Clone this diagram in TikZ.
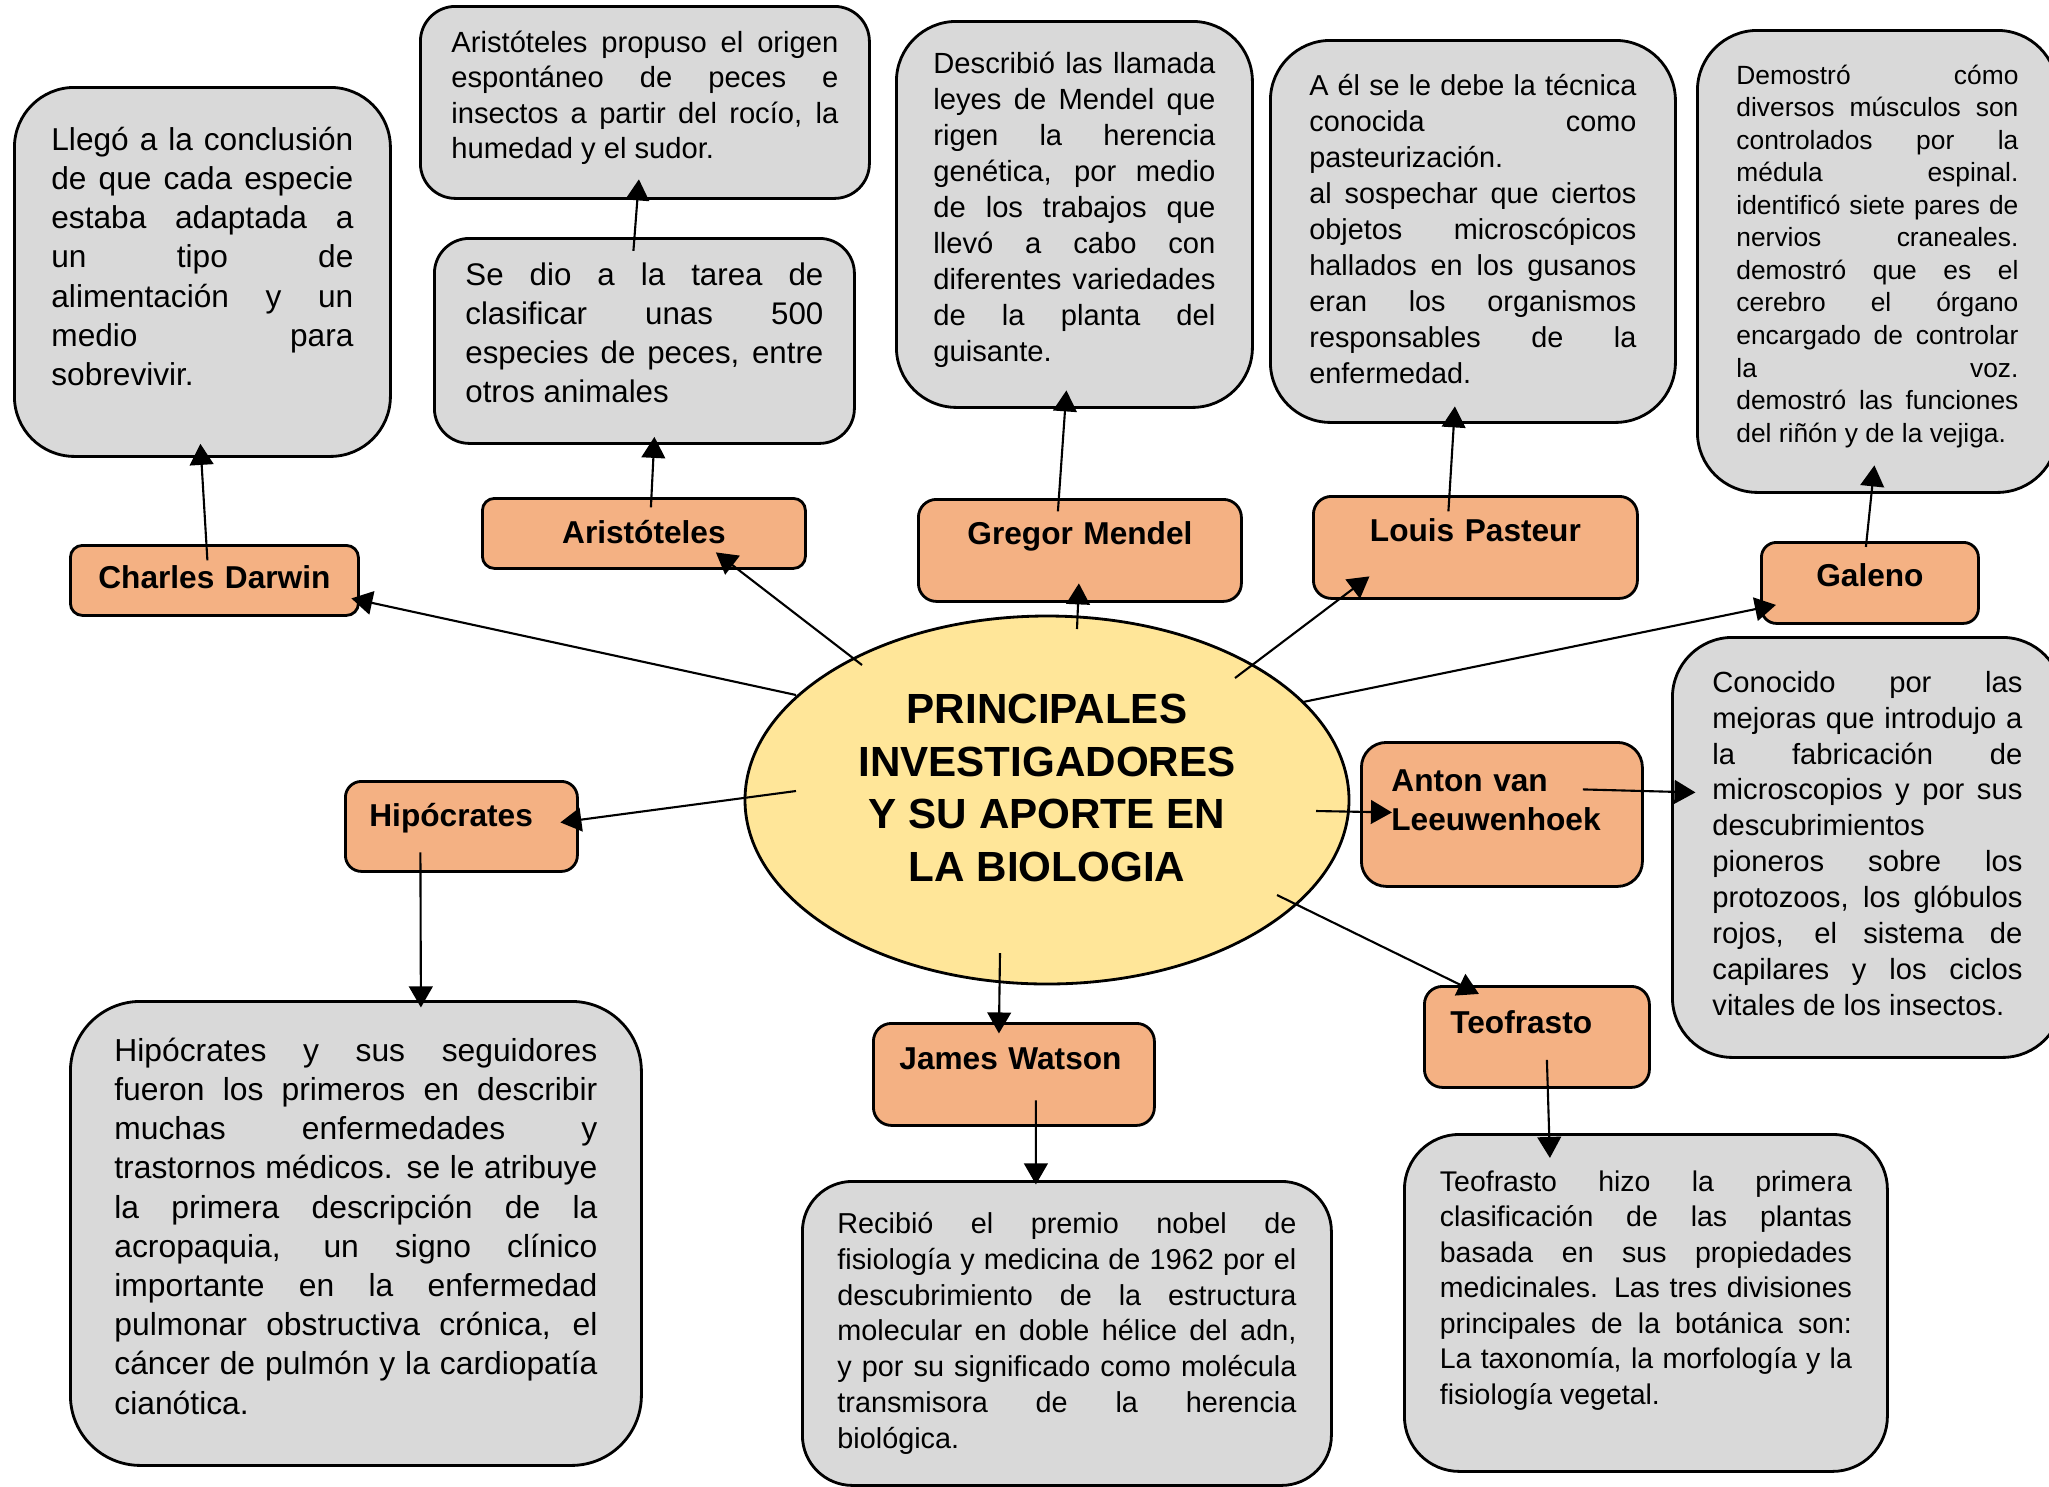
\documentclass[tikz,border=0pt]{standalone}
\usepackage{fontspec}
\setmainfont{Liberation Sans}
\usetikzlibrary{arrows,shapes}
\definecolor{naranja}{RGB}{244,177,131}
\definecolor{gris}{RGB}{217,217,217}
\definecolor{amarillo}{RGB}{255,230,153}
\tolerance=10000
\hbadness=10000
\hyphenpenalty=10000
\exhyphenpenalty=10000

\begin{document}
\begin{tikzpicture}[
		nota/.style={draw, fill=gris, thick, anchor=north west, inner ysep=0pt, align=justify},
		nombre/.style={draw, fill=naranja, thick, anchor=north west, inner ysep=0pt, font=\bfseries\fontsize{9}{11.05}\selectfont},
		flecha/.style={->, >=triangle 60, semithick}]
		\useasboundingbox (0,0) rectangle (20.49,-14.86);

		\node[ellipse, draw, fill=amarillo, thick, minimum width=6.04cm, minimum height=3.68cm, inner sep=0pt, align=center, text height=21mm, text depth=4.8mm, font=\bfseries\fontsize{12}{14.9}\selectfont] (centro) at (10.47,-8.00) {PRINCIPALES\\INVESTIGADORES\\Y SU APORTE EN\\LA BIOLOGIA};

		\node[nombre, rounded corners=1.2mm, inner xsep=0pt, text width=2.88cm, align=center, text height=4.3mm, text depth=2.7mm] (darwin) at (0.69,-5.44) {Charles Darwin};
		\node[nombre, rounded corners=1.2mm, inner xsep=0pt, text width=3.23cm, align=center, text height=4.5mm, text depth=2.5mm] (aristo) at (4.81,-4.97) {Aristóteles};
		\node[nombre, rounded corners=1.8mm, inner xsep=0pt, text width=3.23cm, align=center, text height=4.5mm, text depth=5.7mm] (mendel) at (9.17,-4.98) {Gregor Mendel};
		\node[nombre, rounded corners=1.8mm, inner xsep=0pt, text width=3.24cm, align=center, text height=4.5mm, text depth=5.7mm] (pasteur) at (13.12,-4.95) {Louis Pasteur};
		\node[nombre, rounded corners=1.5mm, inner xsep=0pt, text width=2.17cm, align=center, text height=4.4mm, text depth=3.7mm] (galeno) at (17.60,-5.41) {Galeno};
		\node[nombre, rounded corners=2.5mm, inner xsep=3.0mm, text width=2.21cm, align=left, text height=4.9mm, text depth=9.5mm] (leeuw) at (13.60,-7.41) {Anton van\\Leeuwenhoek};
		\node[nombre, rounded corners=1.8mm, inner xsep=2.6mm, text width=1.73cm, align=left, text height=4.7mm, text depth=5.4mm] (teofr) at (14.23,-9.85) {Teofrasto};
		\node[nombre, rounded corners=1.6mm, inner xsep=2.4mm, text width=1.84cm, align=left, text height=4.5mm, text depth=4.5mm] (hipo) at (3.44,-7.80) {Hipócrates};
		\node[nombre, rounded corners=1.8mm, inner xsep=2.6mm, text width=2.29cm, align=left, text height=4.6mm, text depth=5.6mm] (watson) at (8.72,-10.22) {James Watson};

		\node[nota, rounded corners=6mm, inner xsep=3.7mm, text width=3.02cm, text height=6.3mm, text depth=30.6mm, font=\fontsize{9}{11.15}\selectfont] (tdarwin) at (0.13,-0.86) {Llegó a la conclusión\linebreak de que cada especie\linebreak estaba adaptada a\linebreak un tipo de\linebreak alimentación y un\linebreak medio para\linebreak sobrevivir.};
		\node[nota, rounded corners=3.5mm, inner xsep=3.1mm, text width=3.87cm, text height=4.6mm, text depth=14.6mm, font=\fontsize{8.3}{10.1}\selectfont] (taristo) at (4.19,-0.05) {Aristóteles propuso el origen\linebreak espontáneo de peces e\linebreak insectos a partir del rocío, la\linebreak humedad y el sudor.};
		\node[nota, rounded corners=3.5mm, inner xsep=3.1mm, text width=3.58cm, text height=4.7mm, text depth=15.8mm, font=\fontsize{8.9}{11.1}\selectfont] (tclasif) at (4.33,-2.37) {Se dio a la tarea de\linebreak clasificar unas 500\linebreak especies de peces, entre\linebreak otros animales};
		\node[nota, rounded corners=6mm, inner xsep=3.7mm, text width=2.82cm, text height=5.2mm, text depth=33.4mm, font=\fontsize{8.3}{10.25}\selectfont] (tmendel) at (8.95,-0.20) {Describió las llamada\linebreak leyes de Mendel que\linebreak rigen la herencia\linebreak genética, por medio\linebreak de los trabajos que\linebreak llevó a cabo con\linebreak diferentes variedades\linebreak de la planta del\linebreak guisante.};
		\node[nota, rounded corners=6mm, inner xsep=3.9mm, text width=3.27cm, text height=5.5mm, text depth=32.7mm, font=\fontsize{8.2}{10.25}\selectfont] (tpasteur) at (12.69,-0.39) {A él se le debe la técnica\linebreak conocida como\linebreak pasteurización.\par al sospechar que ciertos\linebreak objetos microscópicos\linebreak hallados en los gusanos\linebreak eran los organismos\linebreak responsables de la\linebreak enfermedad.};
		\node[nota, rounded corners=6mm, inner xsep=3.9mm, text width=2.82cm, text height=5.4mm, text depth=40.8mm, font=\fontsize{7.5}{9.25}\selectfont] (tgaleno) at (16.96,-0.29) {Demostró cómo\linebreak diversos músculos son\linebreak controlados por la\linebreak médula espinal.\linebreak identificó siete pares de\linebreak nervios craneales.\linebreak demostró que es el\linebreak cerebro el órgano\linebreak encargado de controlar\linebreak la voz.\linebreak demostró las funciones\linebreak del riñón y de la vejiga.};
		\node[nota, rounded corners=6mm, inner xsep=4.0mm, text width=3.10cm, text height=5.5mm, text depth=36.5mm, font=\fontsize{8.3}{10.2}\selectfont] (tleeuw) at (16.71,-6.36) {Conocido por las\linebreak mejoras que introdujo a\linebreak la fabricación de\linebreak microscopios y por sus\linebreak descubrimientos\linebreak pioneros sobre los\linebreak protozoos, los glóbulos\linebreak rojos, el sistema de\linebreak capilares y los ciclos\linebreak vitales de los insectos.};
		\node[nota, rounded corners=7mm, inner xsep=4.4mm, text width=4.83cm, text height=6.0mm, text depth=40.4mm, font=\fontsize{9.05}{11.15}\selectfont] (thipo) at (0.69,-10.00) {Hipócrates y sus seguidores\linebreak fueron los primeros en describir\linebreak muchas enfermedades y\linebreak trastornos médicos. se le atribuye\linebreak la primera descripción de la\linebreak acropaquia, un signo clínico\linebreak importante en la enfermedad\linebreak pulmonar obstructiva crónica, el\linebreak cáncer de pulmón y la cardiopatía\linebreak cianótica.};
		\node[nota, rounded corners=5mm, inner xsep=3.5mm, text width=4.59cm, text height=5.2mm, text depth=25.2mm, font=\fontsize{8.2}{10.2}\selectfont] (twatson) at (8.01,-11.80) {Recibió el premio nobel de\linebreak fisiología y medicina de 1962 por el\linebreak descubrimiento de la estructura\linebreak molecular en doble hélice del adn,\linebreak y por su significado como molécula\linebreak transmisora de la herencia\linebreak biológica.};
		\node[nota, rounded corners=5.5mm, inner xsep=3.55mm, text width=4.12cm, text height=5.7mm, text depth=28.0mm, font=\fontsize{8.1}{10.1}\selectfont] (tteofr) at (14.03,-11.33) {Teofrasto hizo la primera\linebreak clasificación de las plantas\linebreak basada en sus propiedades\linebreak medicinales. Las tres divisiones\linebreak principales de la botánica son:\linebreak La taxonomía, la morfología y la\linebreak fisiología vegetal.};

		\draw[flecha] ([shift={(-2.51,1.05)}]centro.center) -- ([shift={(1.37,-0.18)}]darwin.center);
		\draw[flecha] ([shift={(-1.85,1.35)}]centro.center) -- ([shift={(0.72,-0.19)}]aristo.center);
		\draw[flecha] ([shift={(0.30,1.71)}]centro.center) -- ([shift={(-0.01,-0.33)}]mendel.center);
		\draw[flecha] ([shift={(1.88,1.22)}]centro.center) -- ([shift={(-1.06,-0.29)}]pasteur.center);
		\draw[flecha] ([shift={(2.56,0.98)}]centro.center) -- ([shift={(-0.94,-0.22)}]galeno.center);
		\draw[flecha] ([shift={(2.69,-0.11)}]centro.center) -- ([shift={(-1.10,0.02)}]leeuw.center);
		\draw[flecha] ([shift={(2.30,-0.95)}]centro.center) -- ([shift={(-0.58,0.43)}]teofr.center);
		\draw[flecha] ([shift={(-0.47,-1.53)}]centro.center) -- ([shift={(-0.15,0.41)}]watson.center);
		\draw[flecha] ([shift={(-2.51,0.09)}]centro.center) -- ([shift={(0.99,0.04)}]hipo.center);

		\draw[flecha] ([shift={(-0.07,0.20)}]darwin.center) -- ([shift={(-0.02,-1.72)}]tdarwin.center);
		\draw[flecha] ([shift={(0.07,0.26)}]aristo.center) -- ([shift={(0.10,-0.96)}]tclasif.center);
		\draw[flecha] ([shift={(-0.11,0.90)}]tclasif.center) -- ([shift={(-0.06,-0.77)}]taristo.center);
		\draw[flecha] ([shift={(-0.22,0.39)}]mendel.center) -- ([shift={(-0.08,-1.76)}]tmendel.center);
		\draw[flecha] ([shift={(-0.27,0.36)}]pasteur.center) -- ([shift={(-0.18,-1.75)}]tpasteur.center);
		\draw[flecha] ([shift={(-0.04,0.36)}]galeno.center) -- ([shift={(-0.03,-2.04)}]tgaleno.center);
		\draw[flecha] ([shift={(0.81,0.25)}]leeuw.center) -- ([shift={(-1.72,0.55)}]tleeuw.center);
		\draw[flecha] ([shift={(0.10,-0.23)}]teofr.center) -- ([shift={(-0.96,1.45)}]tteofr.center);
		\draw[flecha] ([shift={(0.22,-0.26)}]watson.center) -- ([shift={(-0.31,1.49)}]twatson.center);
		\draw[flecha] ([shift={(-0.41,-0.26)}]hipo.center) -- ([shift={(0.65,2.26)}]thipo.center);
\end{tikzpicture}
\end{document}
